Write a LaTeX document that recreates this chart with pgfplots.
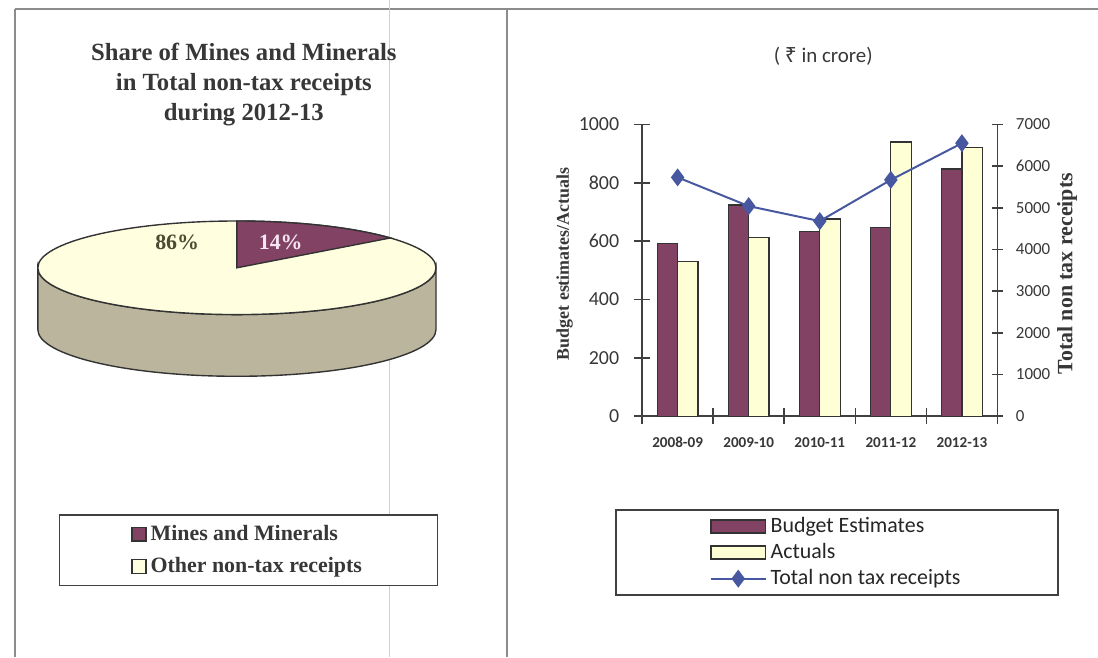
\documentclass[border=0pt]{standalone}
\usepackage{fontspec}
\setmainfont{Liberation Serif}
\newfontfamily\carlito{Carlito}
\newfontfamily\rupeefont{Noto Sans}
\usepackage{pgfplots}
\usepackage{pgfplotstable}
\pgfplotsset{compat=1.18}

\definecolor{budget}{RGB}{130,66,100}
\definecolor{actual}{RGB}{255,255,214}
\definecolor{cream}{RGB}{255,255,224}
\definecolor{side}{RGB}{186,181,156}
\definecolor{lineblue}{RGB}{72,88,160}
\definecolor{framegray}{RGB}{140,140,140}
\definecolor{axisgray}{RGB}{64,64,64}
\definecolor{txt}{RGB}{55,55,55}
\definecolor{cyanline}{RGB}{150,232,238}

\pgfplotsset{
  barleg/.style={legend image code/.code={\draw[##1, line width=0.7pt] (0pt,-3.25pt) rectangle (27.5pt,3.25pt);}},
  sqleg/.style={legend image code/.code={\draw[##1, line width=0.8pt] (0pt,-3.5pt) rectangle (7pt,3.5pt);}},
  lineleg/.style={legend image code/.code={\draw[mark repeat=2,mark phase=2,##1] plot coordinates {(0pt,0pt) (13.75pt,0pt) (27.5pt,0pt)};}},
}

\pgfplotstableread{
x budget actual total
0 593 530 5730
1 724 611 5040
2 634 676 4680
3 648 940 5670
4 847 922 6550
}\datatable

\pgfplotstableread{
part share
Mines 14
Other 86
}\pietable

\begin{document}
\pgfplotstablegetelem{0}{share}\of\pietable
\pgfmathsetmacro{\angend}{90-3.6*\pgfplotsretval}
\begin{tikzpicture}
\path[use as bounding box] (0pt,0pt) rectangle (549pt,330pt);
% frame
\draw[framegray, line width=1pt] (5pt,325.5pt) -- (549pt,325.5pt);
\draw[framegray, line width=1pt] (5pt,325.5pt) -- (5pt,0pt);
\draw[framegray, line width=1pt] (252pt,325.5pt) -- (252pt,0pt);
\draw[cyanline, line width=0.5pt] (193pt,330pt) -- (193pt,0pt);

% left title
\node[align=center, font=\bfseries\fontsize{12.4}{15}\selectfont, text=txt] at (120pt,287.5pt)
  {Share of Mines and Minerals\\in Total non-tax receipts\\during 2012-13};

% pie
\begin{axis}[
  at={(116.5pt,195.5pt)}, anchor=center, scale only axis,
  width=200pt, height=47pt, xmin=-1, xmax=1, ymin=-1, ymax=1,
  hide axis, clip=false,
  legend cell align=left,
  legend style={at={(0.529,-2.52)}, anchor=center, draw=axisgray, line width=0.9pt,
    font=\bfseries\fontsize{11}{13}\selectfont, text=txt, inner xsep=36pt, inner ysep=3pt, row sep=3pt},
]
\addlegendimage{sqleg, fill=budget, draw=black!80}
\addlegendentry{Mines and Minerals}
\addlegendimage{sqleg, fill=cream, draw=black!80}
\addlegendentry{Other non-tax receipts}
\filldraw[fill=side, draw=black!80, line width=0.7pt] (axis cs:-1,0) arc[start angle=180, end angle=360, x radius=100pt, y radius=23.5pt] -- ++(0pt,-31pt) arc[start angle=0, end angle=-180, x radius=100pt, y radius=23.5pt] -- cycle;
\filldraw[fill=cream, draw=black!80, line width=0.7pt] (axis cs:0,0) ellipse[x radius=100pt, y radius=23.5pt];
\filldraw[fill=budget, draw=black!80, line width=0.7pt] (axis cs:0,0) -- (axis cs:0,1) arc[start angle=90, end angle=\angend, x radius=100pt, y radius=23.5pt] -- cycle;
\end{axis}
\node[font=\bfseries\fontsize{11}{13}\selectfont, text={rgb,255:red,75;green,75;blue,50}] at (86.5pt,208.5pt) {86\%};
\node[font=\bfseries\fontsize{11}{13}\selectfont, text={rgb,255:red,245;green,228;blue,242}] at (138.5pt,208.5pt) {14\%};

% right title
\node[font=\carlito\fontsize{10.5}{12}\selectfont, text=txt] at (411pt,301.5pt) {( {\rupeefont ₹} in crore)};

% bar chart
\begin{axis}[
  at={(320pt,121pt)}, anchor=south west, scale only axis,
  width=178.5pt, height=146.5pt,
  xmin=-0.5, xmax=4.5, ymin=0, ymax=1000,
  axis x line=bottom, axis y line=left,
  axis line style={-, axisgray, line width=0.8pt},
  xtick={-0.5,0.5,1.5,2.5,3.5,4.5}, xticklabels={},
  extra x ticks={0,1,2,3,4},
  extra x tick labels={2008-09,2009-10,2010-11,2011-12,2012-13},
  extra x tick style={major tick length=0pt,
    xticklabel style={font=\carlito\bfseries\fontsize{7.6}{9}\selectfont, text=txt, yshift=-7pt}},
  ytick={0,200,...,1000},
  tick align=center, major tick length=8pt,
  tick style={axisgray, line width=0.8pt},
  yticklabel style={font=\carlito\fontsize{10}{12}\selectfont, text=txt, xshift=-4pt},
  /pgf/number format/assume math mode=true, /pgf/number format/1000 sep={},
  ylabel={Budget estimates/Actuals},
  ylabel style={font=\bfseries\fontsize{9}{11}\selectfont, text=txt, at={(axis description cs:-0.218,0.522)}, anchor=center},
]
\addplot[ybar, bar width=0.287, bar shift=-0.1435, fill=budget, draw=black!80, line width=0.6pt] table[x=x,y=budget]{\datatable};
\addplot[ybar, bar width=0.287, bar shift=0.1435, fill=actual, draw=black!80, line width=0.6pt] table[x=x,y=actual]{\datatable};
\end{axis}

\begin{axis}[
  at={(320pt,121pt)}, anchor=south west, scale only axis,
  width=178.5pt, height=146.5pt,
  xmin=-0.5, xmax=4.5, ymin=0, ymax=7000,
  axis x line=none, axis y line=right,
  axis line style={-, axisgray, line width=0.8pt},
  ytick={0,1000,...,7000},
  tick align=center, major tick length=5.5pt,
  tick style={axisgray, line width=0.8pt},
  yticklabel style={font=\carlito\fontsize{8.5}{10}\selectfont, text=txt, xshift=3pt},
  /pgf/number format/assume math mode=true, /pgf/number format/1000 sep={},
  ylabel={Total non tax receipts},
  ylabel style={font=\bfseries\fontsize{11}{13}\selectfont, text=txt, at={(axis description cs:1.196,0.488)}, anchor=center, rotate=0},
  legend cell align=left,
  legend style={at={(0.549,-0.4676)}, anchor=center, draw=axisgray, line width=0.9pt,
    font=\carlito\fontsize{11}{13}\selectfont, text=black!85, inner xsep=47pt, inner ysep=1.8pt, row sep=0pt},
]
\addlegendimage{barleg, fill=budget, draw=black!80}
\addlegendentry{Budget Estimates}
\addlegendimage{barleg, fill=actual, draw=black!80}
\addlegendentry{Actuals}
\addplot[lineblue, line width=1pt, mark=diamond*, mark size=3.7pt, mark options={fill=lineblue, draw=lineblue}, lineleg] table[x=x,y=total]{\datatable};
\addlegendentry{Total non tax receipts}
\end{axis}
\end{tikzpicture}
\end{document}
